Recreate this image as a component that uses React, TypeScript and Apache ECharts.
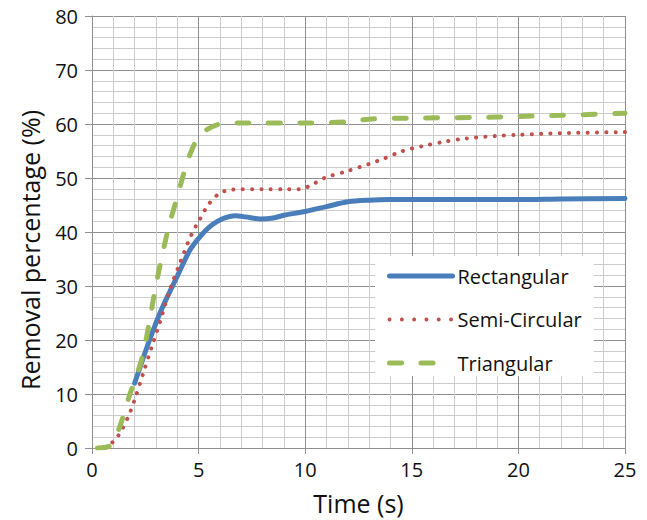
import React, { useEffect, useRef } from "react";
import * as echarts from "echarts";

const seriesNames = ["Rectangular", "Semi-Circular", "Triangular"];

const rectangular: [number, number][] = [
  [2, 12], [2.7, 20], [3.3, 26], [4, 31.8], [4.6, 36.7], [5.1, 39.3], [5.5, 40.9],
  [5.9, 42], [6.3, 42.7], [6.7, 43], [7.2, 42.8], [7.9, 42.4], [8.5, 42.6],
  [9, 43.1], [10, 43.8], [11, 44.7], [12, 45.6], [13, 45.9], [14, 46], [16, 46],
  [18, 46], [20, 46], [22, 46.1], [25, 46.2],
];

const semiCircular: [number, number][] = [
  [0.6, 0], [1, 1.2], [1.3, 2.7], [1.7, 5.8], [2.0, 8.9], [2.4, 13.8], [2.8, 18.7],
  [3.2, 23.5], [3.66, 29.4], [4.13, 34.3], [4.65, 39.4], [5.05, 42.3], [5.5, 45.3],
  [6, 47.2], [6.5, 47.8], [7, 47.9], [8, 47.9], [9, 47.9], [9.7, 47.9], [10.2, 48.5],
  [10.9, 50], [12, 51.3], [13, 52.6], [13.7, 53.6], [14.5, 54.9], [15.5, 55.9],
  [16.5, 56.7], [17.5, 57.3], [19, 57.8], [20, 58], [22, 58.3], [25, 58.5],
];

const triangular: [number, number][] = [
  [0.25, 0], [0.8, 0.3], [1.0, 1.2], [1.3, 3.9], [1.78, 10], [2.1, 13.5], [2.4, 17.5],
  [2.7, 23.5], [2.9, 28], [3.2, 34], [3.6, 41], [4, 46.5], [4.45, 52.7], [4.9, 57],
  [5.4, 59], [6, 60], [7, 60.2], [8, 60.2], [10, 60.2], [12, 60.4], [13, 60.9],
  [15, 61.1], [18, 61.2], [20, 61.4], [22, 61.6], [25, 62],
];

const xMin = 0, xMax = 25, xStep = 5;
const yMin = 0, yMax = 80, yStep = 10;

const FONT = "'Open Sans', sans-serif";

export default function App() {
  const ref = useRef<HTMLDivElement>(null);
  useEffect(() => {
    if (!ref.current) return;
    const chart = echarts.init(ref.current, undefined, { renderer: "svg" });
    const major = "#8f8f8f";
    const minor = "#cccccc";
    chart.setOption({
      animation: false,
      backgroundColor: "#ffffff",
      textStyle: { fontFamily: FONT },
      grid: { left: 92, right: 22, top: 16, bottom: 72, containLabel: false },
      xAxis: {
        type: "value",
        min: xMin,
        max: xMax,
        interval: xStep,
        name: "Time (s)",
        nameLocation: "middle",
        nameGap: 42,
        nameTextStyle: { fontSize: 25, color: "#111", fontFamily: FONT },
        axisLine: { show: true, lineStyle: { color: major, width: 1 } },
        axisTick: { show: true, inside: false, length: 6, lineStyle: { color: major } },
        axisLabel: { fontSize: 20, color: "#111", margin: 11, fontFamily: FONT },
        splitLine: { show: true, lineStyle: { color: major, width: 1 } },
        minorTick: { show: false, splitNumber: 5 },
        minorSplitLine: { show: true, lineStyle: { color: minor, width: 1 } },
      },
      yAxis: {
        type: "value",
        min: yMin,
        max: yMax,
        interval: yStep,
        name: "Removal percentage (%)",
        nameLocation: "middle",
        nameGap: 50,
        nameRotate: 90,
        nameTextStyle: { fontSize: 25, color: "#111", fontFamily: FONT, padding: [0, 36, 0, 0] },
        axisLine: { show: true, lineStyle: { color: major, width: 1 } },
        axisTick: { show: true, inside: false, length: 7, lineStyle: { color: major } },
        axisLabel: { fontSize: 20, color: "#111", margin: 14, fontFamily: FONT },
        splitLine: { show: true, lineStyle: { color: major, width: 1 } },
        minorTick: { show: false, splitNumber: 5 },
        minorSplitLine: { show: true, lineStyle: { color: minor, width: 1 } },
      },
      legend: {
        orient: "vertical",
        left: 375,
        top: 256,
        backgroundColor: "#ffffff",
        padding: [9, 12, 2, 12],
        itemWidth: 63,
        itemHeight: 14,
        itemGap: 21.5,
        itemStyle: { opacity: 0 },
        lineStyle: { width: 5, cap: "round" },
        textStyle: { fontSize: 20, color: "#111", fontFamily: FONT, lineHeight: 22 },
        data: [
          { name: seriesNames[0] },
          { name: seriesNames[1], lineStyle: { width: 3.8, type: [0.1, 12.2], cap: "round" } },
          { name: seriesNames[2] },
        ],
      },
      series: [
        {
          name: seriesNames[0],
          type: "line",
          data: rectangular,
          smooth: 0.3,
          symbol: "none",
          lineStyle: { color: "#4a7ebb", width: 5, cap: "round" },
          itemStyle: { color: "#4a7ebb" },
        },
        {
          name: seriesNames[1],
          type: "line",
          data: semiCircular,
          smooth: 0.3,
          symbol: "none",
          lineStyle: { color: "#c0504d", width: 4, type: [0.1, 9.2], cap: "round" },
          itemStyle: { color: "#c0504d" },
        },
        {
          name: seriesNames[2],
          type: "line",
          data: triangular,
          smooth: 0.3,
          symbol: "none",
          lineStyle: { color: "#9bbb59", width: 5, type: [12, 19.5], cap: "round" },
          itemStyle: { color: "#9bbb59" },
        },
      ],
    });
    return () => chart.dispose();
  }, []);
  return (
    <div
      ref={ref}
      style={{ position: "fixed", left: 0, top: 0, width: 647, height: 520, background: "#fff" }}
    />
  );
}
